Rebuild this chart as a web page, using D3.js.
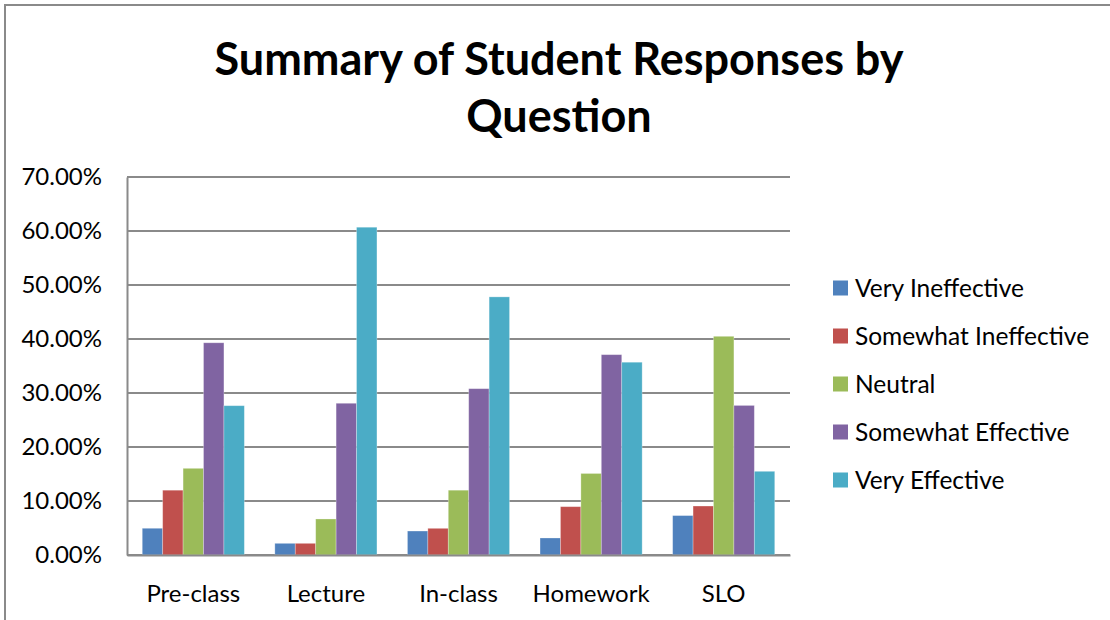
<!DOCTYPE html>
<html>
<head>
<meta charset="utf-8">
<script src="https://cdn.jsdelivr.net/npm/d3@7"></script>
<style>
  html, body { margin: 0; padding: 0; background: #ffffff; }
  svg { display: block; font-family: Lato, "Open Sans", sans-serif; }
</style>
</head>
<body>
<svg id="chart" width="1110" height="620"></svg>
<script>
const categories = ["Pre-class", "Lecture", "In-class", "Homework", "SLO"];
const seriesNames = ["Very Ineffective", "Somewhat Ineffective", "Neutral", "Somewhat Effective", "Very Effective"];
const veryIneffective     = [0.0495, 0.0216, 0.0444, 0.0315, 0.0730];
const somewhatIneffective = [0.1200, 0.0216, 0.0494, 0.0895, 0.0907];
const neutral             = [0.1605, 0.0667, 0.1200, 0.1510, 0.4050];
const somewhatEffective   = [0.3930, 0.2810, 0.3080, 0.3710, 0.2770];
const veryEffective       = [0.2765, 0.6070, 0.4780, 0.3570, 0.1550];
const yTicks = [0, 0.1, 0.2, 0.3, 0.4, 0.5, 0.6, 0.7];
const titleLines = ["Summary of Student Responses by", "Question"];

const seriesValues = [veryIneffective, somewhatIneffective, neutral, somewhatEffective, veryEffective];
const colors = ["#4F81BD", "#C0504D", "#9BBB59", "#8064A2", "#4BACC6"];

const svg = d3.select("#chart");
svg.append("rect").attr("width", 1110).attr("height", 620).attr("fill", "#fff");

// outer frame (left and top edges visible)
svg.append("path")
  .attr("d", "M5,620 L5,5 L1110,5")
  .attr("fill", "none").attr("stroke", "#8a8a8a").attr("stroke-width", 2);

const plot = { left: 127, right: 790, top: 177, bottom: 555 };

const x0 = d3.scaleBand().domain(categories)
  .range([plot.left, plot.right]).paddingInner(0.23).paddingOuter(0.115);
const x1 = d3.scaleBand().domain(seriesNames).range([0, x0.bandwidth()]);
const y = d3.scaleLinear().domain([0, 0.7]).range([plot.bottom, plot.top]);

// gridlines
svg.append("g").selectAll("line").data(yTicks).join("line")
  .attr("x1", plot.left).attr("x2", plot.right)
  .attr("y1", d => y(d)).attr("y2", d => y(d))
  .attr("stroke", "#8a8a8a").attr("stroke-width", 2);

// y axis via d3 axis
const yAxis = d3.axisLeft(y).tickValues(yTicks).tickFormat(d3.format(".2%")).tickSize(0).tickPadding(25);
const yg = svg.append("g").attr("transform", `translate(${plot.left},0)`).call(yAxis);
yg.select(".domain").attr("stroke", "#8a8a8a").attr("stroke-width", 2);
yg.selectAll("text").attr("font-size", 24).attr("fill", "#000").attr("font-family", "Lato, sans-serif");

// bars
const groups = svg.append("g").selectAll("g").data(categories).join("g")
  .attr("transform", d => `translate(${x0(d)},0)`);
groups.selectAll("rect")
  .data((c, i) => seriesNames.map((s, j) => ({ s, j, v: seriesValues[j][i] })))
  .join("rect")
  .attr("x", d => x1(d.s))
  .attr("width", x1.bandwidth())
  .attr("y", d => y(d.v))
  .attr("height", d => y(0) - y(d.v))
  .attr("fill", d => colors[d.j])
  .attr("stroke", "rgba(255,255,255,0.35)").attr("stroke-width", 0.8);

// x axis
const xAxis = d3.axisBottom(x0).tickSize(0).tickPadding(30);
const xg = svg.append("g").attr("transform", `translate(0,${plot.bottom})`).call(xAxis);
xg.select(".domain").attr("stroke", "#8a8a8a").attr("stroke-width", 2);
xg.selectAll("text").attr("font-size", 24).attr("fill", "#000").attr("font-family", "Lato, sans-serif");

// title
const title = svg.append("text").attr("text-anchor", "middle")
  .attr("font-weight", "bold").attr("font-size", 45).attr("fill", "#000");
titleLines.forEach((t, i) => {
  title.append("tspan").attr("x", 559).attr("y", 75 + i * 57).text(t);
});

// legend
const legend = svg.append("g").selectAll("g").data(seriesNames).join("g")
  .attr("transform", (d, i) => `translate(833,${288 + i * 48})`);
legend.append("rect").attr("x", 0).attr("y", -7.5).attr("width", 15).attr("height", 15)
  .attr("fill", (d, i) => colors[i]);
legend.append("text").attr("x", 22).attr("y", 8.5)
  .attr("font-size", 24.5).attr("fill", "#000").text(d => d);
</script>
</body>
</html>
